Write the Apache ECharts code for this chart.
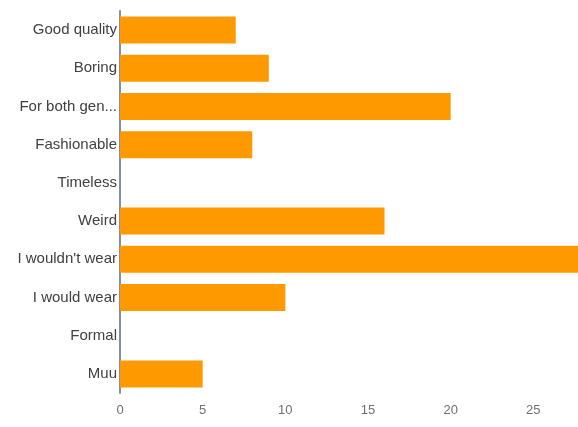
<!DOCTYPE html>
<html>
<head>
<meta charset="utf-8">
<script src="https://cdn.jsdelivr.net/npm/echarts@6/dist/echarts.min.js"></script>
<style>
  html, body { margin: 0; padding: 0; background: #fff; overflow: hidden; }
  #chart { width: 660px; height: 427px; }
</style>
</head>
<body>
<div id="chart"></div>
<script>
// Answer categories, listed top to bottom
const categories = [
  'Good quality', 'Boring', 'For both gen...', 'Fashionable', 'Timeless',
  'Weird', "I wouldn't wear", 'I would wear', 'Formal', 'Muu'
];
// Number of responses per category
const counts = [7, 9, 20, 8, 0, 16, 28, 10, 0, 5];
// Value axis ticks
const axisMin = 0;
const axisMax = 30;
const axisStep = 5;

const chart = echarts.init(document.getElementById('chart'), null, { renderer: 'canvas' });
chart.setOption({
  animation: false,
  backgroundColor: '#ffffff',
  // plot runs a little past the visible area on the right
  grid: { left: 120, right: 44, top: 11, bottom: 34 },
  xAxis: {
    type: 'value',
    min: axisMin,
    max: axisMax,
    interval: axisStep,
    axisLine: { show: false },
    axisTick: { show: false },
    splitLine: { show: false },
    axisLabel: {
      color: '#707070',
      fontFamily: 'Liberation Sans, Arial, sans-serif',
      fontSize: 13,
      margin: 11
    }
  },
  yAxis: {
    type: 'category',
    data: categories,
    inverse: true,
    axisLine: { show: true, lineStyle: { color: '#8490a2', width: 2 } },
    axisTick: { show: false },
    splitLine: { show: false },
    axisLabel: {
      color: '#404040',
      fontFamily: 'Liberation Sans, Arial, sans-serif',
      fontSize: 15,
      margin: 3
    }
  },
  series: [{
    type: 'bar',
    data: counts,
    barWidth: 27,
    itemStyle: { color: '#ff9900' }
  }]
});
</script>
</body>
</html>
